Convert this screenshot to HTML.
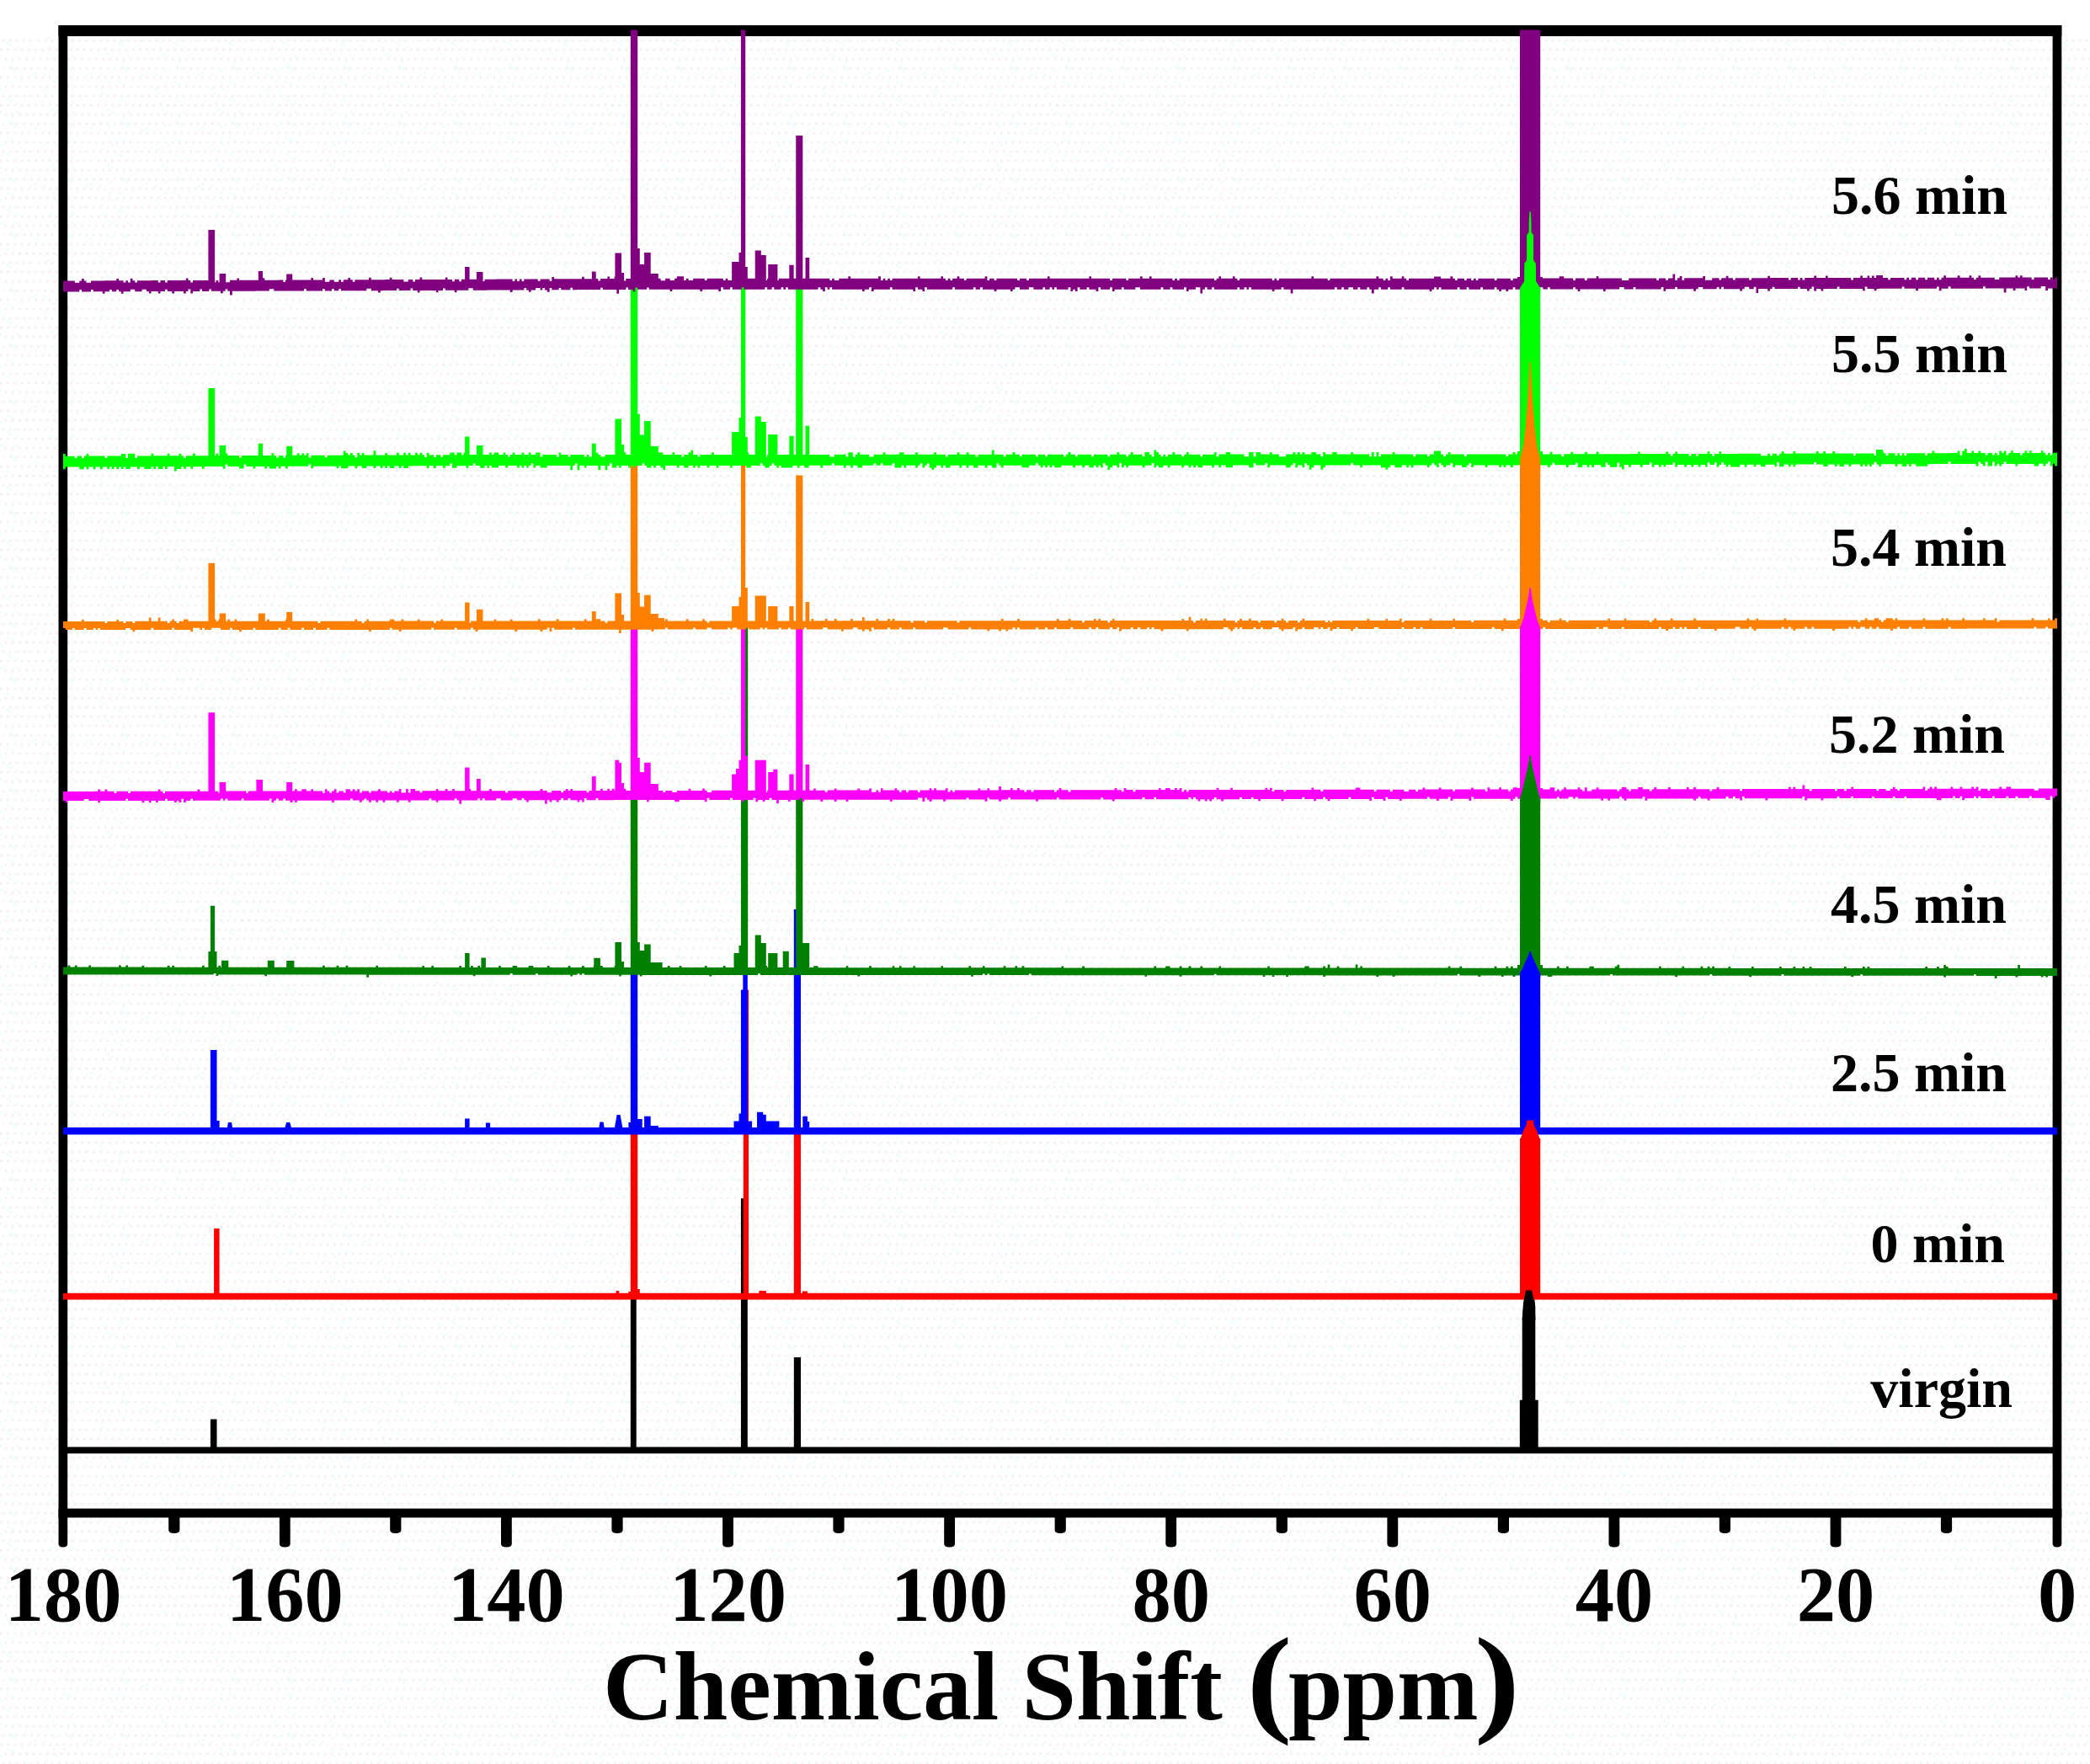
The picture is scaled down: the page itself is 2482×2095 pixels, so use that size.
<!DOCTYPE html>
<html lang="en">
<head>
<meta charset="utf-8">
<title>13C NMR spectra – Chemical Shift (ppm)</title>
<style>
html,body{margin:0;padding:0;background:#fff;}
body{width:2482px;height:2095px;overflow:hidden;}
svg{display:block;}
</style>
</head>
<body>
<svg width="2482" height="2095" viewBox="0 0 2482 2095">
<defs><pattern id="dz" width="8.25" height="33" patternUnits="userSpaceOnUse"><g fill="#f8efef"><rect x="5.5" y="2.75" width="2.75" height="2.75"/><rect x="2.75" y="13.75" width="2.75" height="2.75"/><rect x="0" y="24.75" width="2.75" height="2.75"/></g></pattern><pattern id="dc" width="66" height="66" patternUnits="userSpaceOnUse"><g fill="#eefefe"><rect x="52.2" y="22" width="2.75" height="2.75"/><rect x="63.2" y="30.2" width="2.75" height="2.75"/><rect x="60.5" y="63.2" width="2.75" height="2.75"/><rect x="55" y="44" width="2.75" height="2.75"/><rect x="0" y="38.5" width="2.75" height="2.75"/><rect x="19.2" y="55" width="2.75" height="2.75"/><rect x="2.8" y="13.8" width="2.75" height="2.75"/><rect x="8.2" y="30.2" width="2.75" height="2.75"/><rect x="41.2" y="19.2" width="2.75" height="2.75"/><rect x="33" y="46.8" width="2.75" height="2.75"/><rect x="8.2" y="49.5" width="2.75" height="2.75"/><rect x="19.2" y="0" width="2.75" height="2.75"/><rect x="63.2" y="16.5" width="2.75" height="2.75"/><rect x="35.8" y="22" width="2.75" height="2.75"/><rect x="13.8" y="33" width="2.75" height="2.75"/><rect x="13.8" y="5.5" width="2.75" height="2.75"/><rect x="11" y="52.2" width="2.75" height="2.75"/><rect x="52.2" y="38.5" width="2.75" height="2.75"/><rect x="11" y="11" width="2.75" height="2.75"/><rect x="0" y="0" width="2.75" height="2.75"/><rect x="16.5" y="16.5" width="2.75" height="2.75"/><rect x="13.8" y="13.8" width="2.75" height="2.75"/><rect x="24.8" y="27.5" width="2.75" height="2.75"/><rect x="16.5" y="46.8" width="2.75" height="2.75"/><rect x="57.8" y="55" width="2.75" height="2.75"/><rect x="16.5" y="13.8" width="2.75" height="2.75"/></g></pattern></defs>
<rect width="2482" height="2095" fill="#fff"/>
<rect y="44" width="2482" height="2051" fill="url(#dz)"/>
<rect y="44" width="2482" height="2051" fill="url(#dc)"/>
<g fill="#000">
<path d="M69.5 30V1833.5q0 4 5.35 4t5.35 -4V30Z"/>
<path d="M2437.6 30V1833.5q0 4 5.35 4t5.35 -4V30Z"/>
<rect x="69.5" y="30" width="2378.8" height="13"/>
<rect x="69.5" y="1791.6" width="2378.8" height="10.8"/>
<path d="M200.2 1800V1817q0 4 6.6 4t6.6 -4V1800Z"/>
<path d="M331.9 1800V1833.5q0 4 6.4 4t6.4 -4V1800Z"/>
<path d="M463.2 1800V1817q0 4 6.6 4t6.6 -4V1800Z"/>
<path d="M595 1800V1833.5q0 4 6.4 4t6.4 -4V1800Z"/>
<path d="M726.4 1800V1817q0 4 6.6 4t6.6 -4V1800Z"/>
<path d="M858.1 1800V1833.5q0 4 6.4 4t6.4 -4V1800Z"/>
<path d="M989.4 1800V1817q0 4 6.6 4t6.6 -4V1800Z"/>
<path d="M1121.2 1800V1833.5q0 4 6.4 4t6.4 -4V1800Z"/>
<path d="M1252.6 1800V1817q0 4 6.6 4t6.6 -4V1800Z"/>
<path d="M1384.3 1800V1833.5q0 4 6.4 4t6.4 -4V1800Z"/>
<path d="M1515.7 1800V1817q0 4 6.6 4t6.6 -4V1800Z"/>
<path d="M1647.4 1800V1833.5q0 4 6.4 4t6.4 -4V1800Z"/>
<path d="M1778.8 1800V1817q0 4 6.6 4t6.6 -4V1800Z"/>
<path d="M1910.5 1800V1833.5q0 4 6.4 4t6.4 -4V1800Z"/>
<path d="M2041.8 1800V1817q0 4 6.6 4t6.6 -4V1800Z"/>
<path d="M2173.6 1800V1833.5q0 4 6.4 4t6.4 -4V1800Z"/>
<path d="M2304.9 1800V1817q0 4 6.6 4t6.6 -4V1800Z"/>
</g>
<!-- black -->
<g fill="#000000">
<path d="M249.9 1685.6H257.5V1723.4H249.9ZM748.8 1538H755.7V1723.4H748.8ZM879.9 1423.3H887.8V1723.4H879.9ZM942.8 1612H951V1723.4H942.8ZM1807.7 1566H1823.3V1723.4H1807.7ZM1804.8 1662.7H1826.7V1723.4H1804.8ZM1807.7 1566L1809.5 1548L1812 1537L1813.5 1532.4L1820.4 1532.4L1822 1540L1823.3 1552L1823.3 1566Z"/>
<path d="M75 1718.5H2443V1726.3H75Z"/>
</g>
<!-- red -->
<g fill="#ff0000">
<path d="M254.1 1459H260.6V1540.7H254.1ZM748.8 1341H757.2V1540.7H748.8ZM882.8 1175.5H889V1540.7H882.8ZM942.8 1341H951V1540.7H942.8ZM731.6 1533H735.2V1540.7H731.6ZM746.4 1534H748.8V1540.7H746.4ZM757.2 1531H759.8V1540.7H757.2ZM901.4 1533H909.8V1540.7H901.4ZM952.9 1533.5H958.9V1540.7H952.9ZM1805 1352H1829.2V1540.6H1805Z"/>
<path d="M75 1535.7H2443V1543.6H75Z"/>
</g>
<!-- blue -->
<g fill="#0000ff">
<path d="M249.9 1247H257.5V1344.2H249.9ZM257.5 1331H260.6V1344.2H257.5ZM552.1 1328.4H557.6V1344.2H552.1ZM576.9 1333.6H582.1V1344.2H576.9ZM746.4 1333H748.8V1344.3H746.4ZM748.8 1150H757.2V1344.3H748.8ZM757.2 1329H762.7V1344.3H757.2ZM765.1 1325.7H772.7V1344.3H765.1ZM772.7 1337H781.8V1344.3H772.7ZM871.5 1331.4H877.5V1344.3H871.5ZM877.5 1322.6H879.9V1344.3H877.5ZM879.9 1175.5H882.3V1344.3H879.9ZM882.3 1150H887.8V1344.3H882.3ZM887.8 1331.4H893.1V1344.3H887.8ZM899 1320.7H906.2V1344.3H899ZM906.2 1323.8H909.8V1344.3H906.2ZM909.8 1331.4H925.4V1344.3H909.8ZM942.8 1080H951V1344.3H942.8ZM953.3 1325.7H958.9V1344.3H953.3ZM958.9 1332H961.2V1344.3H958.9ZM1805 1152H1829.2V1344.3H1805ZM269.1 1343.2L271 1333H275L276.8 1343.2ZM337.1 1343.2L340.2 1333H344.2L347.2 1343.2ZM710.5 1343.3L712.5 1332.5H716.5L718.4 1343.3ZM729.2 1343.3L732.6 1324H736.6L740 1343.3Z"/>
<path d="M75 1339.1H2443V1347.5H75Z"/>
</g>
<!-- dgreen -->
<g fill="#008000">
<path d="M249.9 1075.8H255.1V1154.1H249.9ZM247.4 1130H257.5V1154.1H247.4ZM263 1140.7H271.3V1154.1H263ZM317.8 1140.7H325.8V1154.2H317.8ZM340.2 1141H349.4V1154.2H340.2ZM552.1 1132H557.6V1154.3H552.1ZM571.4 1137.6H576.9V1154.3H571.4ZM705.3 1137.7H712.9V1154.4H705.3ZM730.4 1119H738V1154.4H730.4ZM738 1142H741.1V1154.4H738ZM748.8 942H757.2V1154.4H748.8ZM757.2 1119H759.8V1154.4H757.2ZM759.8 1129H765.1V1154.4H759.8ZM765.1 1121.4H772.7V1154.4H765.1ZM772.7 1143H786.6V1154.4H772.7ZM871.5 1132H877.5V1154.5H871.5ZM877.5 1123H879.9V1154.5H877.5ZM879.9 942H887.8V1154.5H879.9ZM885 742H888.2V1154.5H885ZM896.7 1110.6H903.8V1154.5H896.7ZM903.8 1120H909.8V1154.5H903.8ZM912.2 1132H923.4V1154.5H912.2ZM929.7 1129.8H936.8V1154.5H929.7ZM945.2 942H953.3V1154.6H945.2ZM953.3 1120H961.2V1154.6H953.3ZM1805 946H1829.2V1155.1H1805ZM1802 1146H1832V1155.1H1802Z"/>
<path d="M75 1148.6H80.5V1146.6H83.3V1148.6H88.8V1146.6H91.5V1148.6H105.3V1146.6H108V1148.6H141V1146.6H143.8V1148.6H149.3V1146.6H152V1148.6H168.5V1146.7H171.3V1148.7H198.8V1146.7H201.5V1148.7H204.3V1146.7H207V1148.7H240V1146.7H242.8V1148.7H259.3V1146.7H262V1148.7H341.8V1148.8H383V1146.8H385.8V1148.8H399.5V1146.8H402.3V1148.8H410.5V1146.8H413.3V1148.8H446.3V1146.8H449V1148.8H501.3V1146.9H504V1148.9H512.3V1146.9H515V1148.9H545.3V1146.9H548V1148.9H559.1V1146.9H561.8V1148.9H567.3V1146.9H570.1V1148.9H592.1V1146.9H594.8V1148.9H608.6V1146.9H614.1V1148.9H627.8V1147H633.3V1149H649.8V1147H652.6V1149H674.6V1147H677.3V1149H691.1V1147H693.8V1149H704.8V1147H707.6V1149H710.3V1147H715.8V1149H729.6V1147H732.3V1149H792.8V1147.1H795.6V1149.1H806.6V1147.1H809.3V1149.1H836.8V1147.1H839.6V1149.1H858.8V1147.1H861.6V1149.1H880.8V1147.1H883.6V1149.1H908.3V1147.1H911.1V1149.1H966.1V1147.2H971.6V1149.2H1004.6V1147.2H1007.3V1149.2H1032.1V1147.2H1034.9V1149.2H1059.6V1147.2H1062.4V1149.2H1067.9V1147.2H1070.6V1149.2H1084.4V1147.2H1087.1V1149.2H1117.4V1147.3H1120.1V1149.3H1150.4V1147.3H1153.1V1149.3H1166.9V1147.3H1169.6V1149.3H1191.6V1147.3H1194.4V1149.3H1205.4V1147.3H1208.1V1149.3H1213.6V1147.3H1216.4V1149.3H1260.4V1147.4H1263.1V1149.4H1285.1V1147.4H1287.9V1149.4H1367.6V1149.4H1370.4V1147.4H1373.1V1149.4H1384.1V1147.4H1389.6V1149.4H1400.6V1147.4H1403.4V1149.4H1411.6V1147.4H1414.4V1149.4H1425.4V1147.5H1428.1V1149.5H1447.4V1147.5H1450.1V1149.5H1505.2V1147.5H1507.9V1149.5H1549.2V1147.5H1554.7V1149.5H1571.2V1147.5H1573.9V1149.6H1576.7V1145.6H1579.4V1149.6H1587.7V1147.6H1590.4V1149.6H1609.7V1145.6H1612.4V1149.6H1615.2V1147.6H1617.9V1149.6H1697.7V1149.6H1719.7V1147.6H1722.4V1149.6H1733.4V1147.7H1736.2V1149.7H1774.7V1147.7H1777.4V1149.7H1788.4V1147.7H1791.2V1149.7H1793.9V1147.7H1796.7V1149.7H1807.7V1147.7H1810.4V1149.7H1848.9V1147.7H1851.7V1149.7H1859.9V1147.7H1862.7V1149.7H1887.4V1147.7H1892.9V1149.8H1917.7V1147.8H1920.4V1145.8H1923.2V1149.8H1970V1147.8H1972.7V1149.8H1997.5V1147.8H2000.2V1149.8H2019.5V1147.8H2022.2V1149.8H2027.7V1147.8H2030.5V1149.8H2033.2V1147.8H2036V1149.8H2052.5V1147.9H2055.2V1149.9H2080V1147.9H2082.7V1149.9H2113V1147.9H2115.7V1149.9H2129.5V1147.9H2132.2V1149.9H2140.5V1147.9H2143.2V1149.9H2148.7V1147.9H2151.5V1149.9H2190V1147.9H2192.7V1149.9H2212V1148H2214.7V1150H2217.5V1148H2220.2V1150H2286.2V1148H2289V1150H2300V1148H2302.7V1150H2308.2V1146H2311V1148H2313.7V1150H2393.5V1150.1H2396.2V1146.1H2399V1150.1H2443V1158.9H2432V1160.5H2429.2V1158.9H2426.5V1160.5H2423.7V1158.9H2396.2V1160.5H2393.5V1158.9H2371.5V1162.1H2368.7V1158.9H2346.7V1157.2H2344V1158.8H2311V1160.4H2308.2V1158.8H2228.5V1158.8H2212V1157.2H2209.2V1158.8H2201V1160.3H2198.2V1158.7H2118.5V1157.1H2115.7V1158.7H2080V1160.3H2077.2V1158.7H2033.2V1157H2030.5V1158.6H1992V1160.2H1989.2V1158.6H1914.9V1157H1912.2V1158.6H1843.4V1160.1H1837.9V1158.5H1799.4V1160.1H1796.7V1158.5H1785.7V1160.1H1782.9V1158.5H1758.2V1160.1H1755.4V1158.5H1733.4V1156.8H1730.7V1158.4H1656.4V1160H1653.7V1158.4H1637.2V1160H1634.4V1158.4H1573.9V1159.9H1571.2V1158.3H1529.9V1159.9H1527.2V1158.3H1513.4V1159.9H1510.7V1158.3H1502.4V1159.9H1499.7V1158.3H1444.6V1156.7H1441.9V1158.3H1403.4V1159.8H1400.6V1158.2H1362.1V1159.8H1359.4V1158.2H1279.6V1158.2H1224.6V1156.5H1221.9V1158.1H1175.1V1156.5H1172.4V1158.1H1169.6V1156.5H1166.9V1158.1H1155.9V1159.7H1153.1V1158.1H1073.4V1158H1021.1V1159.6H1018.3V1158H938.6V1157.9H902.8V1156.3H900.1V1157.9H845.1V1159.5H842.3V1157.9H762.6V1159.4H759.8V1157.8H737.8V1159.4H735.1V1157.8H693.8V1156.2H691.1V1157.8H688.3V1156.2H685.6V1157.8H680.1V1159.4H677.3V1157.8H638.8V1156.2H636.1V1157.8H608.6V1156.1H605.8V1157.7H564.6V1159.3H561.8V1157.7H482V1157.7H438V1160.8H435.3V1157.6H355.5V1157.6H317V1159.2H314.3V1157.6H259.3V1159.1H256.5V1155.9H253.8V1157.5H174V1157.5H94.3V1157.4H75Z"/>
</g>
<!-- magenta -->
<g fill="#ff00ff">
<path d="M247.4 846.3H255.1V946.3H247.4ZM260.6 929H268.2V946.2H260.6ZM304.4 926H312V946.2H304.4ZM340.2 929H347.2V946.1H340.2ZM552.1 911.5H557.6V945.8H552.1ZM565.9 925H570.8V945.8H565.9ZM702.9 922H707.7V945.6H702.9ZM730.4 902.7H735.2V945.6H730.4ZM735.2 906H738V945.6H735.2ZM738 930H741.1V945.6H738ZM748.8 740H757.2V945.6H748.8ZM757.2 900H759.8V945.5H757.2ZM759.8 917H765.1V945.5H759.8ZM765.1 905.8H772.7V945.5H765.1ZM772.7 931H781.8V945.5H772.7ZM869.1 919.5H873.9V945.4H869.1ZM873.9 913H877.5V945.4H873.9ZM877.5 902.7H879.9V945.4H877.5ZM879.9 740H885.2V945.4H879.9ZM885.2 897.5H887.8V945.4H885.2ZM896.7 902.7H909.8V945.3H896.7ZM912.2 917H918.2V945.3H912.2ZM918.2 913.7H923.4V945.3H918.2ZM937.3 919.5H942.6V945.3H937.3ZM945.2 740H953.3V945.3H945.2ZM956.5 908H961.2V945.3H956.5ZM1805 742H1829.2V944.1H1805ZM1802 936H1832V944.1H1802Z"/>
<path d="M75 939.9H113.5V939.8H116.3V937.6H119V939.8H124.5V937.6H127.3V939.8H135.5V942H138.3V939.8H152V942H154.8V939.8H187.8V937.5H190.5V939.7H193.3V941.9H196V939.7H234.5V937.5H237.3V939.7H259.3V941.8H262V937.4H264.8V939.6H292.3V941.8H295V939.6H333.5V939.5H341.8V937.3H344.5V939.5H350V937.3H352.8V939.5H358.3V937.3H363.8V939.5H369.3V937.3H372V939.5H383V941.7H385.8V937.3H388.5V939.5H391.3V941.7H394V939.5H396.8V937.2H399.5V941.6H402.3V939.4H407.8V941.6H410.5V937.2H416V939.4H418.8V937.2H421.5V939.4H424.3V937.2H427V941.6H429.8V939.4H438V941.6H440.8V939.4H449V937.2H451.8V939.4H460V941.6H462.8V939.4H465.5V941.6H468.3V939.4H473.8V937.1H476.5V941.5H482V937.1H484.8V941.5H487.5V937.1H493V939.3H498.5V941.5H501.3V939.3H517.8V937.1H520.5V939.3H528.8V937.1H531.5V939.3H537V937.1H539.8V939.3H553.6V937H559.1V939.2H581.1V937H583.8V939.2H600.3V941.4H603.1V939.2H641.6V936.9H644.3V939.1H649.8V941.3H655.3V939.1H666.3V941.3H669.1V939.1H671.8V936.9H674.6V939.1H677.3V936.9H680.1V939.1H696.6V941.2H699.3V939H713.1V936.8H715.8V939H721.3V936.8H724.1V939H726.8V936.8H729.6V939H735.1V941.2H740.6V936.8H743.3V939H751.6V936.8H754.3V939H768.1V936.7H770.8V938.9H779.1V936.7H781.8V938.9H787.3V941.1H790.1V938.9H798.3V941.1H803.8V938.9H817.6V936.7H820.3V938.9H834.1V936.6H836.8V938.8H839.6V941H845.1V938.8H883.6V938.8H908.3V940.9H911.1V938.7H949.6V938.7H966.1V936.5H968.8V938.7H979.8V940.8H982.6V938.6H990.8V936.4H993.6V938.6H1018.3V936.4H1021.1V938.6H1032.1V936.4H1034.9V940.8H1040.4V938.6H1043.1V940.7H1045.9V936.3H1048.6V938.5H1062.4V936.3H1065.1V938.5H1067.9V940.7H1070.6V938.5H1076.1V940.7H1078.9V938.5H1089.9V940.7H1092.6V938.5H1103.6V936.3H1106.4V938.5H1109.1V936.3H1111.9V938.5H1122.9V936.2H1125.6V940.6H1128.4V938.4H1131.1V940.6H1133.9V938.4H1161.4V936.2H1164.1V938.4H1172.4V936.2H1175.1V938.4H1186.1V933.9H1188.9V938.3H1199.9V936.1H1202.6V938.3H1208.1V936.1H1210.9V938.3H1216.4V940.5H1219.1V938.3H1224.6V940.5H1227.4V938.3H1252.1V940.5H1254.9V938.3H1257.6V936H1260.4V938.2H1268.6V940.4H1271.4V938.2H1309.9V938.2H1323.6V936H1326.4V938.2H1331.9V940.3H1334.6V935.9H1337.4V938.1H1345.6V940.3H1348.4V938.1H1375.9V935.9H1378.6V938.1H1384.1V935.9H1389.6V938.1H1395.1V935.9H1397.9V938.1H1400.6V935.9H1403.4V940.2H1406.1V938H1408.9V940.2H1411.6V938H1444.6V935.8H1447.4V938H1461.1V935.8H1463.9V938H1502.4V935.7H1505.2V937.9H1507.9V935.7H1510.7V940.1H1513.4V937.9H1524.4V940.1H1527.2V937.9H1557.4V935.6H1560.2V937.8H1568.4V940H1571.2V937.8H1609.7V935.6H1615.2V937.8H1631.7V939.9H1634.4V937.7H1650.9V939.9H1653.7V937.7H1667.4V939.9H1672.9V937.7H1681.2V939.9H1683.9V937.7H1689.4V935.4H1692.2V937.6H1708.7V935.4H1711.4V937.6H1725.2V939.8H1727.9V937.6H1747.2V935.4H1749.9V937.6H1763.7V939.7H1766.4V935.3H1769.2V937.5H1780.2V935.3H1782.9V937.5H1791.2V939.7H1793.9V937.5H1796.7V935.3H1802.2V939.7H1804.9V937.5H1818.7V939.7H1821.4V937.5H1824.2V939.7H1826.9V937.5H1840.7V935.2H1846.2V939.6H1848.9V937.4H1851.7V939.6H1854.4V937.4H1857.2V935.2H1859.9V937.4H1873.7V935.2H1876.4V937.4H1879.2V939.6H1881.9V935.2H1884.7V939.6H1890.2V937.4H1895.7V935.2H1898.4V937.4H1920.4V939.5H1923.2V937.3H1925.9V935.1H1931.4V937.3H1934.2V939.5H1936.9V937.3H1945.2V935.1H1950.7V937.3H1958.9V939.5H1961.7V937.3H1964.4V935.1H1967.2V937.3H1981V935H1983.7V937.2H2003V935H2005.7V937.2H2011.2V935H2014V937.2H2030.5V939.4H2033.2V937.2H2038.7V935H2041.5V937.2H2066.2V939.3H2069V937.1H2107.5V937.1H2124V934.8H2126.7V937H2129.5V934.8H2132.2V937H2140.5V932.6H2143.2V937H2148.7V939.2H2151.5V937H2179V939.2H2181.7V937H2190V939.2H2192.7V936.9H2198.2V934.7H2201V936.9H2228.5V939.1H2231.2V936.9H2239.5V939.1H2245V936.9H2247.7V934.7H2250.5V936.9H2253.2V939.1H2256V936.9H2283.5V934.6H2286.2V939H2289V936.8H2291.7V934.6H2294.5V936.8H2297.2V934.6H2300V936.8H2316.5V934.6H2319.2V936.8H2327.5V934.6H2330.2V936.8H2341.2V934.5H2344V936.7H2346.7V934.5H2349.5V938.9H2352.2V936.7H2360.5V938.9H2363.2V936.7H2374.2V934.5H2377V936.7H2382.5V934.5H2388V936.7H2415.5V938.8H2421V936.6H2443V945.6H2440.2V947.8H2437.5V945.6H2434.7V950H2429.2V947.8H2412.7V945.6H2410V947.8H2396.2V945.7H2393.5V947.9H2385.2V945.7H2382.5V947.9H2368.7V945.7H2366V947.9H2352.2V945.7H2349.5V947.9H2346.7V945.7H2344V947.9H2333V950.2H2330.2V945.8H2327.5V948H2322V945.8H2319.2V948H2305.5V950.2H2300V948H2264.2V945.9H2261.5V948.1H2250.5V945.9H2247.7V948.1H2225.7V945.9H2223V948.1H2201V945.9H2198.2V948.1H2184.5V946H2181.7V948.2H2165.2V950.4H2162.5V948.2H2146V950.4H2143.2V946H2140.5V948.2H2102V948.3H2099.2V950.5H2096.5V948.3H2071.7V946.1H2069V950.5H2066.2V948.3H2060.7V946.1H2058V948.3H2052.5V946.1H2049.7V948.4H2030.5V950.6H2027.7V948.4H2019.5V946.2H2016.7V948.4H2014V950.6H2011.2V948.4H1972.7V948.5H1956.2V950.7H1953.4V946.3H1950.7V948.5H1931.4V950.7H1928.7V948.5H1925.9V946.3H1923.2V948.5H1912.2V950.7H1909.4V948.5H1903.9V950.8H1901.2V948.6H1873.7V946.4H1870.9V948.6H1868.2V946.4H1862.7V948.6H1851.7V946.4H1848.9V948.6H1810.4V948.7H1802.2V946.5H1799.4V948.7H1796.7V950.9H1793.9V948.7H1755.4V948.8H1749.9V946.6H1747.2V951H1744.4V948.8H1725.2V951H1722.4V946.6H1719.7V948.8H1708.7V951H1705.9V948.8H1697.7V946.6H1694.9V948.8H1664.7V951.1H1661.9V948.9H1648.2V946.7H1645.4V951.1H1642.7V948.9H1631.7V946.7H1628.9V951.1H1626.2V948.9H1604.2V946.8H1601.4V949H1579.4V951.2H1576.7V949H1573.9V946.8H1571.2V949H1562.9V951.2H1560.2V949H1549.2V946.8H1546.4V949.1H1524.4V951.3H1521.7V949.1H1496.9V951.3H1494.1V949.1H1488.6V946.9H1485.9V949.1H1474.9V947H1472.1V949.2H1452.9V951.4H1450.1V949.2H1444.6V947H1441.9V949.2H1439.1V951.4H1436.4V949.2H1433.6V951.4H1430.9V949.2H1425.4V951.4H1422.6V949.2H1419.9V947H1417.1V949.2H1414.4V947H1411.6V949.2H1373.1V947.1H1370.4V949.3H1359.4V947.1H1356.6V949.3H1323.6V951.6H1320.9V949.4H1309.9V947.2H1307.1V949.4H1268.6V949.4H1257.6V947.3H1254.9V949.5H1232.9V951.7H1230.1V949.5H1199.9V947.3H1197.1V949.5H1188.9V951.7H1186.1V949.6H1175.1V947.4H1172.4V951.8H1169.6V949.6H1150.4V947.4H1147.6V949.6H1122.9V951.8H1120.1V949.6H1106.4V951.9H1103.6V949.7H1100.9V947.5H1098.1V951.9H1095.4V947.5H1089.9V949.7H1059.6V951.9H1056.9V949.7H1018.3V949.8H1007.3V952H1004.6V949.8H993.6V952H990.8V949.8H977.1V952H974.3V949.8H955.1V952.1H952.3V947.7H949.6V949.9H938.6V952.1H935.8V949.9H924.8V954.3H922.1V949.9H916.6V947.7H913.8V949.9H908.3V952.1H905.6V949.9H900.1V952.2H897.3V947.8H894.6V950H883.6V952.2H880.8V950H869.8V947.8H867.1V950H842.3V947.8H839.6V952.2H836.8V950H806.6V952.3H801.1V950.1H770.8V952.3H768.1V950.1H729.6V950.2H710.3V948H707.6V950.2H696.6V948H693.8V952.4H691.1V950.2H688.3V952.4H685.6V950.3H677.3V948.1H674.6V950.3H669.1V948.1H666.3V950.3H663.6V952.5H660.8V950.3H655.3V952.5H652.6V950.3H649.8V954.7H647.1V950.3H627.8V952.5H625.1V950.3H622.3V948.1H619.6V950.3H614.1V948.2H608.6V950.4H594.8V948.2H589.3V950.4H575.6V948.2H572.8V950.4H570.1V948.2H567.3V950.4H548V954.8H545.3V950.4H542.5V948.3H539.8V950.5H520.5V952.7H517.8V950.5H512.3V948.3H509.5V950.5H487.5V952.7H484.8V950.5H473.8V952.7H471V950.6H457.3V952.8H454.5V950.6H449V952.8H446.3V950.6H440.8V952.8H438V950.6H435.3V948.4H432.5V950.6H429.8V952.8H427V950.6H418.8V948.4H416V950.6H396.8V952.9H394V950.7H355.5V950.7H352.8V952.9H350V950.7H347.3V952.9H344.5V950.7H339V948.5H336.3V950.7H330.8V948.5H328V950.7H325.3V953H322.5V948.6H319.8V950.8H289.5V948.6H286.8V950.8H270.3V948.6H267.5V950.8H264.8V948.6H262V950.8H229V948.7H226.3V950.9H220.8V953.1H218V948.7H215.3V953.1H212.5V950.9H209.8V953.1H207V950.9H198.8V948.7H196V950.9H187.8V953.1H185V950.9H179.5V953.2H176.8V951H171.3V953.2H168.5V951H152V948.8H149.3V951H119V953.2H116.3V951H105.3V948.9H99.8V951.1H80.5V953.3H77.8V951.1H75Z"/>
</g>
<!-- orange -->
<g fill="#ff8000">
<path d="M247.4 668.7H255.1V743.9H247.4ZM260.6 728.4H268.2V743.9H260.6ZM306.8 728.4H314.8V743.9H306.8ZM340.2 727H347.2V743.8H340.2ZM552.1 715.6H557.6V743.7H552.1ZM565.9 723.8H573.5V743.7H565.9ZM702.9 726H707.7V743.6H702.9ZM730.4 704.6H738V743.6H730.4ZM738 730H741.1V743.6H738ZM748.8 544H757.2V743.6H748.8ZM757.2 704H759.8V743.6H757.2ZM759.8 720.6H765.1V743.6H759.8ZM765.1 706.7H772.7V743.6H765.1ZM772.7 729H781.8V743.6H772.7ZM781.8 734H789V743.5H781.8ZM869.1 720H877.5V743.5H869.1ZM877.5 709H879.9V743.5H877.5ZM879.9 544H885.2V743.5H879.9ZM885.2 698H887.8V743.5H885.2ZM896.7 707.5H909.8V743.5H896.7ZM912.2 720H923.4V743.5H912.2ZM937.3 720H942.6V743.5H937.3ZM945.2 564.6H953.3V743.4H945.2ZM956.5 715H961.2V743.4H956.5ZM1805 543H1829.2V742.9H1805ZM1802 735H1832V742.9H1802Z"/>
<path d="M75 737.9H97V735.7H99.8V737.9H124.5V740.1H127.3V737.9H138.3V735.7H141V737.9H146.5V740.1H149.3V737.9H157.5V740H160.3V737.8H176.8V733.4H179.5V737.8H187.8V733.4H190.5V737.8H198.8V740H201.5V737.8H204.3V735.6H207V737.8H209.8V740H212.5V737.8H218V735.6H223.5V737.8H248.3V735.6H251V737.8H253.8V735.6H256.5V737.8H259.3V735.6H262V737.8H270.3V735.6H273V737.8H278.5V735.6H281.3V737.8H317V735.5H319.8V737.7H339V735.5H341.8V737.7H377.5V739.9H380.3V737.7H421.5V735.5H424.3V737.7H429.8V739.9H432.5V737.7H435.3V735.5H438V737.7H462.8V735.5H468.3V737.6H476.5V735.4H479.3V737.6H495.8V735.4H498.5V737.6H515V739.8H517.8V737.6H523.3V735.4H526V737.6H556.3V739.8H559.1V737.6H586.6V735.4H589.3V737.6H605.8V735.4H608.6V737.6H638.8V735.3H641.6V737.5H660.8V735.3H663.6V737.5H693.8V735.3H696.6V737.5H707.6V735.3H713.1V737.5H718.6V739.7H721.3V737.5H768.1V739.7H770.8V737.5H773.6V739.7H776.3V737.5H790.1V735.2H792.8V737.4H814.8V735.2H817.6V737.4H834.1V735.2H836.8V737.4H839.6V739.6H842.3V737.4H922.1V737.4H963.3V735.1H966.1V737.3H979.8V735.1H982.6V737.3H990.8V735.1H993.6V737.3H1010.1V735.1H1012.8V737.3H1023.9V732.9H1026.6V737.3H1040.4V735.1H1043.1V737.3H1054.1V735.1H1056.9V737.3H1059.6V735.1H1062.4V737.3H1081.6V739.5H1084.4V737.3H1098.1V739.5H1100.9V737.2H1136.6V739.4H1139.4V737.2H1188.9V735H1191.6V737.2H1208.1V735H1210.9V737.2H1254.9V735H1257.6V737.1H1268.6V734.9H1271.4V737.1H1285.1V739.3H1287.9V737.1H1298.9V734.9H1301.6V737.1H1304.4V734.9H1307.1V737.1H1315.4V739.3H1318.1V737.1H1320.9V734.9H1323.6V737.1H1403.4V734.9H1406.1V737.1H1411.6V732.7H1414.4V737.1H1417.1V739.2H1419.9V737H1425.4V734.8H1428.1V737H1430.9V734.8H1433.6V737H1452.9V734.8H1455.6V737H1466.6V739.2H1469.4V737H1472.1V734.8H1474.9V737H1483.1V734.8H1485.9V737H1494.1V739.2H1496.9V737H1513.4V739.2H1516.2V737H1521.7V734.8H1524.4V737H1527.2V739.2H1529.9V737H1540.9V739.2H1543.7V737H1546.4V734.8H1549.2V737H1573.9V739.1H1576.7V736.9H1579.4V739.1H1582.2V736.9H1623.4V734.7H1626.2V736.9H1645.4V734.7H1648.2V736.9H1661.9V734.7H1664.7V739.1H1667.4V736.9H1697.7V734.7H1700.4V736.9H1725.2V734.7H1727.9V736.9H1747.2V739H1749.9V736.8H1785.7V734.6H1788.4V736.8H1804.9V734.6H1807.7V736.8H1815.9V734.6H1818.7V736.8H1837.9V739H1840.7V736.8H1851.7V734.6H1854.4V736.8H1859.9V739H1862.7V736.8H1909.4V734.5H1912.2V736.7H1928.7V734.5H1931.4V736.7H1958.9V738.9H1961.7V736.7H1964.4V734.5H1967.2V736.7H1983.7V734.5H1986.5V736.7H2011.2V734.5H2014V736.7H2074.5V734.4H2077.2V736.6H2085.5V734.4H2088.2V736.6H2118.5V734.4H2121.2V736.6H2201V736.6H2206.5V738.7H2209.2V736.5H2214.7V734.3H2217.5V736.5H2225.7V734.3H2231.2V736.5H2234V738.7H2236.7V736.5H2239.5V734.3H2247.7V736.5H2250.5V734.3H2253.2V736.5H2283.5V734.3H2286.2V736.5H2305.5V734.3H2308.2V736.5H2311V734.3H2313.7V736.5H2330.2V734.3H2333V736.5H2355V734.3H2357.7V736.5H2368.7V734.2H2371.5V738.6H2374.2V736.4H2412.7V734.2H2415.5V736.4H2432V734.2H2434.7V736.4H2440.2V734.2H2443V746.6H2432V744.4H2429.2V746.6H2418.2V744.4H2415.5V746.6H2335.7V746.7H2316.5V744.5H2313.7V746.7H2286.2V744.5H2283.5V746.7H2269.7V744.5H2267V746.7H2256V744.5H2253.2V746.7H2247.7V748.9H2245V746.7H2231.2V744.5H2228.5V746.7H2223V744.5H2220.2V746.7H2214.7V744.5H2209.2V746.7H2203.7V744.6H2201V746.8H2198.2V744.6H2195.5V746.8H2179V749H2176.2V746.8H2154.2V744.6H2151.5V746.8H2146V744.6H2143.2V746.8H2132.2V749H2129.5V746.8H2126.7V744.6H2124V746.8H2118.5V744.6H2115.7V746.8H2085.5V749H2082.7V746.8H2080V744.6H2077.2V746.8H2066.2V744.6H2060.7V746.8H2038.7V749.1H2036V746.9H2019.5V744.7H2016.7V746.9H2003V744.7H2000.2V746.9H1997.5V744.7H1994.7V746.9H1989.2V744.7H1986.5V746.9H1981V749.1H1978.2V746.9H1972.7V744.7H1970V746.9H1928.7V744.7H1925.9V746.9H1909.4V744.7H1903.9V746.9H1898.4V744.7H1895.7V746.9H1835.2V744.8H1832.4V747H1818.7V749.2H1815.9V747H1807.7V744.8H1804.9V747H1785.7V749.2H1782.9V747H1774.7V744.8H1771.9V747H1727.9V744.9H1725.2V747.1H1689.4V744.9H1686.7V747.1H1681.2V744.9H1678.4V747.1H1667.4V744.9H1664.7V747.1H1637.2V744.9H1631.7V747.1H1612.4V744.9H1609.7V747.1H1606.9V749.3H1604.2V747.1H1590.4V744.9H1587.7V747.1H1582.2V749.3H1579.4V744.9H1576.7V747.1H1571.2V745H1568.4V747.2H1565.7V745H1560.2V747.2H1549.2V745H1546.4V747.2H1540.9V749.4H1538.2V745H1535.4V747.2H1524.4V749.4H1521.7V747.2H1518.9V745H1510.7V747.2H1499.7V745H1496.9V747.2H1491.4V745H1488.6V747.2H1474.9V745H1472.1V747.2H1469.4V745H1466.6V747.2H1463.9V749.4H1461.1V747.2H1458.4V745H1452.9V747.2H1411.6V749.5H1408.9V747.3H1381.4V749.5H1378.6V747.3H1370.4V745.1H1367.6V747.3H1364.9V745.1H1362.1V747.3H1353.9V745.1H1351.1V747.3H1345.6V745.1H1342.9V747.3H1331.9V749.5H1329.1V745.1H1326.4V747.3H1320.9V745.1H1318.1V747.3H1304.4V745.1H1301.6V747.3H1296.1V745.1H1293.4V747.3H1274.1V745.1H1271.4V747.3H1254.9V745.2H1252.1V747.4H1243.9V745.2H1241.1V747.4H1232.9V745.2H1230.1V747.4H1210.9V745.2H1208.1V747.4H1205.4V745.2H1202.6V747.4H1197.1V749.6H1194.4V747.4H1188.9V749.6H1186.1V747.4H1175.1V749.6H1172.4V747.4H1153.1V745.2H1150.4V747.4H1125.6V745.2H1120.1V747.4H1087.1V745.3H1084.4V747.5H1070.6V745.3H1067.9V747.5H1056.9V745.3H1054.1V747.5H1037.6V745.3H1034.9V749.7H1032.1V747.5H1026.6V749.7H1023.9V747.5H1018.3V745.3H1012.8V747.5H1001.8V749.7H999.1V747.5H982.6V745.3H977.1V747.5H957.8V745.3H955.1V747.5H938.6V745.4H935.8V747.6H927.6V745.4H924.8V747.6H911.1V745.4H908.3V747.6H905.6V745.4H902.8V747.6H889.1V745.4H886.3V747.6H875.3V745.4H869.8V747.6H867.1V745.4H864.3V747.6H845.1V745.4H839.6V747.6H825.8V745.4H823.1V747.6H792.8V745.4H790.1V747.6H776.3V749.9H773.6V747.7H737.8V752.1H735.1V747.7H682.8V745.5H680.1V747.7H658.1V745.5H655.3V749.9H652.6V745.5H649.8V747.7H644.3V749.9H641.6V747.7H614.1V750H611.3V747.8H567.3V750H564.6V747.8H561.8V745.6H559.1V747.8H542.5V745.6H539.8V747.8H515V745.6H512.3V747.8H476.5V750H473.8V747.8H465.5V745.7H462.8V747.9H440.8V750.1H438V747.9H391.3V745.7H388.5V747.9H374.8V745.7H372V747.9H361V745.7H358.3V747.9H344.5V745.7H341.8V747.9H333.5V745.7H330.8V747.9H303.3V745.8H300.5V748H286.8V750.2H284V748H275.8V745.8H273V748H262V745.8H251V748H242.8V745.8H240V748H237.3V745.8H229V750.2H226.3V748H207V745.8H204.3V748H182.3V745.8H179.5V748H160.3V750.2H157.5V748H154.8V745.9H149.3V748.1H119V745.9H116.3V748.1H113.5V745.9H110.8V748.1H102.5V745.9H99.8V748.1H88.8V745.9H86V748.1H77.8V745.9H75Z"/>
</g>
<!-- green -->
<g fill="#00ff00">
<path d="M247.4 461H255.1V548.6H247.4ZM260.6 529H268.2V548.6H260.6ZM306.8 526.8H312V548.4H306.8ZM340.2 530H347.2V548.3H340.2ZM552.1 518.5H557.6V547.6H552.1ZM565.9 529H573.5V547.6H565.9ZM702.9 526.7H707.7V547.5H702.9ZM730.4 497.5H738V547.4H730.4ZM738 528H741.1V547.4H738ZM748.8 336H757.2V547.4H748.8ZM757.2 491.5H759.8V547.4H757.2ZM759.8 516.6H765.1V547.4H759.8ZM765.1 499.9H772.7V547.4H765.1ZM772.7 530H781.8V547.4H772.7ZM869.1 513H877.5V547.4H869.1ZM877.5 496H879.9V547.4H877.5ZM879.9 336H885.2V547.4H879.9ZM885.2 519H887.8V547.4H885.2ZM896.7 494.4H903.8V547.4H896.7ZM903.8 501H909.8V547.4H903.8ZM912.2 516H923.4V547.4H912.2ZM937.3 517.8H942.6V547.4H937.3ZM945.2 338H953.3V547.4H945.2ZM956.5 505.8H961.2V547.4H956.5ZM1805 338H1829.2V547H1805ZM1802 536H1832V547H1802ZM1703 535.5H1711V547H1703ZM2228 534H2236V545.9H2228Z"/>
<path d="M75 539.1H77.8V541.7H88.8V544.3H91.5V541.6H97V544.2H99.8V541.6H102.5V539H105.3V541.6H121.8V541.5H124.5V544.1H127.3V541.5H143.8V538.9H149.3V544.1H152V538.8H160.3V544H163V541.4H179.5V538.8H182.3V541.3H198.8V538.7H201.5V541.3H212.5V538.7H215.3V541.2H218V543.8H220.8V541.2H229V538.6H231.8V541.2H248.3V541.1H256.5V538.5H259.3V541.1H264.8V538.5H270.3V541.1H284V543.6H286.8V541H303.3V541H308.8V538.3H311.5V540.9H322.5V538.3H325.3V540.9H328V543.5H330.8V540.9H336.3V543.4H339V540.8H352.8V538.2H355.5V540.8H358.3V538.2H361V540.8H363.8V538.2H366.5V543.4H369.3V540.7H385.8V543.3H388.5V540.7H405V540.6H407.8V535.4H410.5V538H413.3V540.6H416V538H418.8V540.6H421.5V543.2H424.3V538H427V540.6H429.8V537.9H432.5V540.5H443.5V535.3H446.3V540.5H457.3V537.9H460V540.4H471V537.8H473.8V540.4H479.3V537.8H482V540.4H484.8V537.8H487.5V540.4H493V537.7H495.8V540.3H498.5V537.7H501.3V540.3H504V542.9H506.8V537.7H509.5V540.3H515V542.9H517.8V540.3H523.3V542.8H526V540.2H534.3V537.6H539.8V540.2H542.5V537.6H548V540.2H550.8V537.6H553.6V540.1H567.3V542.7H570.1V540.1H581.1V537.5H583.8V540H586.6V537.4H592.1V540H597.6V537.4H600.3V540H603.1V542.6H605.8V540H608.6V537.4H611.3V540H619.6V537.4H622.3V540H627.8V537.4H630.6V540H636.1V537.4H641.6V542.6H644.3V540H660.8V542.6H663.6V537.4H666.3V540H674.6V542.6H677.3V540H693.8V542.6H696.6V540H699.3V542.6H704.8V540H707.6V537.4H710.3V540H713.1V542.6H718.6V540H735.1V542.5H737.8V539.9H740.6V537.3H743.3V539.9H748.8V537.3H751.6V539.9H754.3V542.5H757.1V539.9H768.1V542.5H773.6V539.9H781.8V537.3H787.3V539.9H798.3V537.3H801.1V539.9H809.3V542.5H812.1V539.9H817.6V537.3H820.3V534.7H823.1V539.9H828.6V542.5H831.3V539.9H845.1V537.3H847.8V539.9H869.8V542.5H872.6V539.9H880.8V542.5H883.6V537.3H889.1V539.9H908.3V542.5H911.1V539.9H913.8V542.5H916.6V539.9H946.8V537.3H949.6V539.9H985.3V542.4H990.8V539.8H1004.6V542.4H1007.3V537.2H1012.8V542.4H1015.6V539.8H1018.3V537.2H1021.1V539.8H1032.1V542.4H1037.6V539.8H1048.6V537.2H1051.4V539.8H1067.9V537.2H1073.4V539.8H1087.1V537.2H1089.9V539.8H1109.1V537.2H1111.9V539.8H1122.9V542.4H1125.6V539.8H1136.6V537.2H1139.4V539.8H1147.6V537.2H1150.4V539.8H1158.6V542.4H1161.4V539.8H1177.9V534.6H1180.6V539.8H1191.6V542.4H1194.4V539.8H1202.6V537.1H1205.4V539.7H1210.9V542.3H1213.6V539.7H1230.1V542.3H1232.9V539.7H1241.1V542.3H1243.9V539.7H1263.1V542.3H1265.9V539.7H1268.6V537.1H1271.4V539.7H1276.9V542.3H1279.6V539.7H1296.1V542.3H1298.9V539.7H1315.4V542.3H1318.1V539.7H1326.4V537.1H1329.1V539.7H1337.4V542.3H1340.1V539.7H1342.9V537.1H1345.6V539.7H1356.6V542.3H1359.4V537.1H1364.9V539.7H1367.6V542.3H1370.4V534.5H1373.1V537.1H1375.9V539.7H1378.6V542.3H1381.4V539.7H1384.1V542.3H1386.9V539.7H1392.4V537.1H1395.1V539.7H1403.4V542.3H1406.1V539.7H1408.9V537.1H1411.6V539.7H1425.4V542.3H1428.1V539.7H1441.9V537H1444.6V542.2H1447.4V539.6H1455.6V537H1461.1V539.6H1477.6V542.2H1483.1V537H1488.6V542.2H1491.4V537H1496.9V539.6H1507.9V537H1510.7V539.6H1518.9V542.2H1527.2V539.6H1535.4V537H1538.2V539.6H1540.9V537H1543.7V539.6H1546.4V537H1549.2V539.6H1557.4V537H1562.9V539.6H1568.4V542.2H1571.2V537H1573.9V539.6H1582.2V537H1587.7V539.6H1604.2V537H1606.9V539.6H1626.2V542.2H1628.9V537H1631.7V542.2H1634.4V537H1637.2V542.2H1639.9V539.6H1653.7V537H1656.4V539.6H1678.4V542.2H1681.2V539.5H1694.9V542.1H1697.7V539.5H1714.2V542.1H1716.9V539.5H1719.7V536.9H1722.4V539.5H1738.9V542.1H1741.7V539.5H1788.4V542.1H1791.2V539.5H1796.7V536.9H1799.4V539.5H1815.9V536.9H1818.7V539.4H1824.2V542H1826.9V539.4H1840.7V536.8H1843.4V539.4H1854.4V542H1857.2V539.3H1865.4V536.7H1868.2V539.3H1881.9V536.7H1884.7V539.3H1895.7V536.6H1898.4V539.2H1917.7V539.2H1936.9V539.1H1945.2V536.5H1947.9V539.1H1967.2V539.1H1978.2V536.4H1981V539H1983.7V541.6H1986.5V539H1989.2V536.4H1992V539H2005.7V541.6H2008.5V538.9H2014V541.5H2016.7V538.9H2027.7V536.3H2030.5V538.9H2033.2V541.5H2036V538.9H2041.5V536.3H2044.2V538.9H2063.5V538.8H2082.7V538.7H2091V541.3H2099.2V538.7H2102V541.3H2104.7V538.7H2110.2V541.3H2113V538.7H2115.7V536.1H2118.5V538.7H2129.5V536H2132.2V538.6H2151.5V538.6H2157V536H2159.7V538.5H2165.2V535.9H2168V538.5H2176.2V535.9H2179V538.5H2198.2V538.4H2201V541H2203.7V538.4H2223V538.4H2225.7V541H2228.5V538.4H2234V535.7H2236.7V538.3H2239.5V540.9H2242.2V538.3H2250.5V540.9H2253.2V538.3H2256V540.9H2258.7V538.3H2261.5V540.9H2264.2V538.3H2283.5V538.2H2286.2V540.8H2289V538.2H2294.5V535.6H2297.2V538.2H2316.5V538.1H2324.7V535.5H2327.5V540.7H2330.2V535.5H2333V532.9H2335.7V538.1H2341.2V535.5H2344V538.1H2349.5V535.4H2352.2V538H2357.7V540.6H2360.5V538H2366V540.6H2368.7V538H2371.5V540.6H2374.2V535.4H2377V538H2379.7V535.4H2382.5V540.6H2385.2V537.9H2388V535.3H2390.7V537.9H2399V540.5H2401.7V537.9H2404.5V535.3H2407.2V537.9H2410V535.3H2412.7V537.9H2423.7V535.2H2426.5V537.8H2429.2V540.4H2432V537.8H2434.7V540.4H2437.5V537.8H2443V553.4H2440.2V550.8H2437.5V553.4H2434.7V548.2H2432V550.8H2429.2V553.4H2426.5V550.8H2421V553.5H2415.5V550.9H2396.2V553.5H2393.5V550.9H2382.5V548.4H2379.7V551H2377V553.6H2374.2V551H2371.5V553.6H2368.7V548.4H2366V553.6H2360.5V548.4H2357.7V553.6H2355V551H2352.2V548.4H2349.5V553.7H2346.7V551.1H2327.5V551.1H2316.5V548.5H2313.7V551.1H2294.5V551.2H2289V553.8H2275.2V551.2H2269.7V553.9H2267V551.3H2264.2V553.9H2258.7V551.3H2253.2V553.9H2250.5V551.3H2234V554H2231.2V551.4H2228.5V548.8H2225.7V551.4H2223V554H2220.2V551.4H2217.5V554H2214.7V551.4H2212V554H2209.2V551.4H2198.2V554.1H2195.5V551.5H2190V554.1H2184.5V551.5H2181.7V554.1H2179V551.5H2170.7V554.1H2165.2V551.5H2157V549H2154.2V551.6H2135V551.6H2132.2V554.2H2129.5V551.6H2126.7V554.2H2124V551.6H2118.5V554.3H2113V549.1H2110.2V554.3H2107.5V551.7H2096.5V554.3H2091V551.7H2085.5V554.3H2082.7V551.8H2074.5V554.4H2071.7V551.8H2066.2V554.4H2055.2V551.8H2052.5V554.4H2049.7V551.8H2047V549.3H2044.2V551.9H2041.5V554.5H2038.7V549.3H2036V551.9H2030.5V549.3H2027.7V554.5H2025V551.9H2019.5V554.5H2016.7V551.9H2011.2V554.5H2008.5V552H2003V554.6H2000.2V552H1992V554.6H1989.2V549.4H1986.5V552H1978.2V554.6H1975.5V552H1972.7V554.6H1970V552.1H1964.4V554.7H1961.7V549.5H1958.9V552.1H1950.7V554.7H1947.9V552.1H1936.9V554.7H1934.2V552.1H1928.7V557.4H1925.9V554.8H1923.2V549.6H1920.4V554.8H1912.2V552.2H1909.4V549.6H1906.7V554.8H1901.2V552.2H1892.9V554.9H1890.2V552.3H1887.4V554.9H1884.7V552.3H1879.2V554.9H1873.7V549.7H1870.9V552.3H1862.7V554.9H1859.9V552.3H1846.2V549.8H1843.4V552.4H1840.7V555H1837.9V552.4H1821.4V549.8H1818.7V552.5H1810.4V555.1H1807.7V552.5H1796.7V555.1H1793.9V552.5H1788.4V555.1H1785.7V552.5H1782.9V555.1H1780.2V552.5H1766.4V555.1H1763.7V552.5H1749.9V555.1H1747.2V549.9H1744.4V552.5H1741.7V555.1H1736.2V552.5H1727.9V555.1H1725.2V549.9H1722.4V552.5H1716.9V555.1H1714.2V552.5H1711.4V549.9H1708.7V555.1H1705.9V552.5H1703.2V549.9H1700.4V552.5H1697.7V555.1H1694.9V552.5H1678.4V555.2H1675.7V552.6H1672.9V555.2H1670.2V552.6H1664.7V555.2H1656.4V552.6H1650.9V555.2H1648.2V557.8H1645.4V555.2H1639.9V552.6H1617.9V555.2H1615.2V552.6H1606.9V550H1604.2V552.6H1573.9V555.2H1571.2V557.8H1568.4V552.6H1560.2V555.2H1557.4V557.8H1554.7V552.6H1551.9V550H1549.2V555.2H1546.4V552.6H1540.9V555.2H1538.2V550H1535.4V552.6H1532.7V555.2H1527.2V552.6H1507.9V555.2H1505.2V550H1502.4V552.6H1491.4V550H1488.6V555.2H1483.1V552.6H1463.9V555.2H1455.6V552.6H1450.1V555.2H1447.4V552.6H1441.9V555.2H1439.1V552.7H1428.1V555.3H1422.6V552.7H1419.9V555.3H1417.1V552.7H1414.4V555.3H1411.6V552.7H1406.1V555.3H1403.4V552.7H1389.6V555.3H1386.9V552.7H1381.4V555.3H1375.9V552.7H1373.1V555.3H1370.4V550.1H1367.6V552.7H1359.4V555.3H1356.6V552.7H1340.1V555.3H1337.4V552.7H1334.6V555.3H1331.9V550.1H1329.1V555.3H1326.4V552.7H1320.9V555.3H1318.1V557.9H1315.4V552.7H1312.6V550.1H1309.9V555.3H1307.1V552.7H1304.4V555.3H1301.6V552.7H1298.9V555.3H1293.4V552.7H1287.9V555.3H1285.1V552.7H1276.9V555.3H1274.1V552.7H1260.4V555.3H1252.1V552.7H1249.4V555.3H1246.6V552.7H1243.9V555.3H1241.1V552.7H1238.4V555.3H1235.6V552.7H1232.9V550.1H1230.1V552.7H1221.9V555.3H1213.6V552.7H1191.6V555.4H1188.9V552.8H1186.1V550.2H1183.4V555.4H1177.9V552.8H1172.4V555.4H1169.6V552.8H1161.4V555.4H1155.9V552.8H1150.4V555.4H1147.6V552.8H1142.1V555.4H1139.4V552.8H1128.4V555.4H1122.9V552.8H1120.1V555.4H1117.4V552.8H1111.9V555.4H1109.1V558H1106.4V555.4H1103.6V550.2H1100.9V552.8H1098.1V555.4H1095.4V550.2H1092.6V552.8H1089.9V555.4H1087.1V552.8H1076.1V555.4H1073.4V552.8H1070.6V555.4H1062.4V550.2H1059.6V552.8H1048.6V550.2H1045.9V552.8H1040.4V550.2H1037.6V552.8H1023.9V555.4H1018.3V552.8H1012.8V555.4H1010.1V552.8H1004.6V555.4H1001.8V552.8H990.8V550.2H988.1V552.8H977.1V555.4H974.3V552.8H960.6V555.5H955.1V552.9H949.6V555.5H946.8V552.9H941.3V555.5H927.6V552.9H924.8V555.5H922.1V552.9H919.3V550.3H916.6V552.9H913.8V555.5H908.3V552.9H905.6V550.3H902.8V552.9H891.8V555.5H886.3V552.9H869.8V555.5H867.1V552.9H853.3V555.5H850.6V552.9H842.3V555.5H839.6V552.9H831.3V555.5H828.6V552.9H825.8V555.5H823.1V552.9H817.6V555.5H812.1V552.9H806.6V555.5H803.8V552.9H790.1V558.1H787.3V555.5H784.6V552.9H779.1V555.5H776.3V552.9H773.6V555.5H768.1V552.9H765.3V550.3H762.6V552.9H754.3V555.5H751.6V552.9H748.8V555.5H746.1V552.9H737.8V555.5H735.1V552.9H732.3V555.5H726.8V550.3H724.1V552.9H721.3V558.2H718.6V553H713.1V558.2H710.3V553H696.6V555.6H693.8V553H688.3V558.2H685.6V550.4H682.8V553H680.1V558.2H677.3V553H649.8V555.6H641.6V553H636.1V555.6H633.3V550.4H630.6V553H627.8V555.6H625.1V553H622.3V555.6H619.6V553H616.8V555.6H614.1V553H603.1V555.6H600.3V553H592.1V555.6H583.8V553.1H581.1V555.7H578.3V553.1H575.6V555.7H570.1V553.1H564.6V550.5H561.8V553.1H556.3V555.7H553.6V553.2H542.5V555.8H537V550.6H534.3V553.2H528.8V555.8H526V553.2H517.8V555.9H515V553.3H509.5V555.9H506.8V553.3H490.3V553.4H484.8V556H479.3V553.4H476.5V556H473.8V553.4H468.3V556H462.8V553.4H460V556.1H457.3V553.5H454.5V556.1H451.8V553.5H446.3V556.1H443.5V553.5H435.3V556.1H429.8V553.6H424.3V556.2H421.5V553.6H413.3V556.2H405V553.6H402.3V556.2H399.5V553.7H383V553.7H372V556.3H369.3V551.2H366.5V553.8H350V553.8H341.8V556.4H339V553.8H333.5V556.5H330.8V553.9H328V556.5H319.8V553.9H317V556.5H314.3V553.9H303.3V556.6H300.5V554H292.3V551.4H289.5V556.6H284V554H270.3V551.5H267.5V556.7H264.8V554.1H248.3V554.1H242.8V556.8H240V554.2H229V556.8H226.3V554.2H220.8V556.8H218V554.2H215.3V556.9H209.8V559.5H207V554.3H198.8V556.9H196V554.3H193.3V556.9H187.8V554.3H185V556.9H182.3V554.4H179.5V557H171.3V554.4H165.8V557H163V554.4H154.8V557H149.3V554.5H146.5V557.1H143.8V554.5H141V557.1H138.3V554.5H135.5V557.1H132.8V554.5H130V557.1H127.3V554.5H121.8V557.2H119V554.6H113.5V557.2H110.8V554.6H105.3V557.2H102.5V554.6H99.8V557.2H94.3V554.6H77.8V557.3H75Z"/>
</g>
<!-- purple -->
<g fill="#800080">
<path d="M247.4 272.9H255.1V340.4H247.4ZM260.6 325H268.2V340.3H260.6ZM306.8 322H312V340.2H306.8ZM340.2 325.5H347.2V340.1H340.2ZM552.1 317H557.6V339.3H552.1ZM565.9 323H573.5V339.2H565.9ZM702.9 322.6H707.7V338.6H702.9ZM730.4 300.4H738V338.5H730.4ZM738 324H741.1V338.5H738ZM748.8 35.5H757.2V338.4H748.8ZM757.2 295H759.8V338.4H757.2ZM759.8 314H765.1V338.4H759.8ZM765.1 300H772.7V338.3H765.1ZM772.7 325H781.8V338.3H772.7ZM869.1 311H877.5V338.2H869.1ZM877.5 300H879.9V338.2H877.5ZM879.9 35.5H885.2V338.2H879.9ZM885.2 317H887.8V338.2H885.2ZM896.7 297.5H903.8V338.2H896.7ZM903.8 303H909.8V338.2H903.8ZM912.2 314H923.4V338.2H912.2ZM937.3 314.7H942.6V338.2H937.3ZM945.2 161H953.3V338.2H945.2ZM956.5 306H961.2V338.2H956.5ZM1805 35.5H1829.2V338.2H1805ZM1802 329H1832V338.2H1802ZM1703 328.5H1711V338.2H1703ZM2228 327H2236V337.4H2228Z"/>
<path d="M75 333.5H88.8V335.8H94.3V333.4H97V331H99.8V333.4H102.5V335.8H108V333.4H124.5V333.3H138.3V330.9H141V333.3H146.5V335.6H149.3V333.2H152V335.6H154.8V330.8H157.5V333.2H160.3V335.6H163V333.2H179.5V333.1H187.8V335.5H190.5V333.1H196V335.5H198.8V333.1H215.3V333H220.8V330.6H223.5V333H226.3V335.4H229V333H245.5V332.9H253.8V335.3H256.5V332.9H259.3V335.2H262V332.8H267.5V335.2H273V332.8H281.3V330.4H284V332.8H300.5V332.7H308.8V335.1H311.5V330.3H314.3V332.7H330.8V332.6H336.3V335H339V332.6H355.5V332.5H369.3V330.1H372V332.4H383V330H385.8V334.8H391.3V332.4H396.8V334.8H402.3V332.3H405V334.7H407.8V332.3H413.3V329.9H416V332.3H418.8V334.7H421.5V332.3H438V329.8H440.8V332.2H457.3V332.1H462.8V329.7H465.5V332.1H479.3V334.5H484.8V332H490.3V334.4H493V332H498.5V329.6H501.3V332H515V331.9H528.8V329.5H531.5V331.9H537V334.2H539.8V331.8H545.3V334.2H548V331.8H561.8V331.7H570.1V334.1H575.6V331.7H589.3V331.6H603.1V331.5H608.6V333.9H611.3V331.5H614.1V333.9H616.8V331.5H619.6V333.9H622.3V331.5H636.1V331.4H638.8V333.8H641.6V331.4H652.6V333.7H655.3V328.9H658.1V331.3H671.8V331.2H685.6V331.2H691.1V328.8H693.8V331.2H707.6V331.1H710.3V333.5H713.1V331.1H721.3V328.6H724.1V331H729.6V328.6H732.3V331H740.6V333.4H743.3V330.9H751.6V328.5H754.3V330.9H759.8V333.3H762.6V330.9H770.8V328.4H773.6V330.8H784.6V333.2H790.1V330.7H795.6V333.1H801.1V330.7H803.8V328.3H812.1V333.1H814.8V330.7H817.6V333.1H823.1V330.7H836.8V333.1H839.6V330.7H858.8V333.1H861.6V330.7H864.3V333.1H869.8V330.7H883.6V333.1H886.3V330.7H897.3V328.3H900.1V330.7H905.6V333.1H911.1V330.7H922.1V333.1H924.8V330.7H949.6V328.3H952.3V330.7H985.3V333.1H988.1V330.7H990.8V333.1H996.3V330.7H1007.3V328.3H1010.1V330.7H1043.1V328.3H1045.9V333.1H1048.6V330.7H1051.4V333.1H1054.1V330.7H1056.9V333.1H1059.6V330.7H1089.9V328.3H1092.6V330.7H1117.4V328.3H1120.1V330.7H1122.9V333.1H1125.6V330.7H1128.4V333.1H1131.1V330.7H1136.6V328.3H1139.4V330.7H1144.9V333.1H1147.6V330.7H1169.6V328.3H1172.4V333.1H1175.1V330.7H1180.6V333.1H1183.4V330.7H1208.1V333.1H1210.9V330.7H1219.1V333.1H1221.9V330.7H1243.9V328.3H1246.6V330.7H1293.4V328.3H1296.1V330.7H1318.1V333.1H1320.9V330.7H1337.4V333.1H1340.1V330.7H1353.9V328.3H1356.6V330.7H1364.9V328.3H1367.6V330.7H1392.4V333.1H1395.1V330.7H1397.9V333.1H1400.6V330.7H1441.9V333.1H1444.6V330.7H1447.4V328.3H1450.1V330.7H1463.9V328.3H1466.6V330.7H1469.4V333.1H1472.1V330.7H1510.7V333.1H1513.4V330.7H1516.2V333.1H1518.9V330.7H1557.4V328.3H1560.2V330.7H1576.7V333.1H1579.4V330.7H1634.4V328.3H1637.2V330.7H1642.7V333.1H1645.4V330.7H1648.2V333.1H1650.9V328.3H1653.7V330.7H1664.7V328.3H1667.4V330.7H1670.2V333.1H1672.9V330.7H1722.4V328.3H1725.2V330.7H1727.9V333.1H1730.7V330.7H1738.9V333.1H1741.7V330.7H1747.2V333.1H1749.9V330.7H1752.7V333.1H1755.4V330.7H1774.7V333.1H1777.4V330.7H1793.9V333.1H1796.7V330.7H1813.2V333.1H1815.9V330.7H1824.2V333.1H1826.9V330.6H1851.7V328.2H1857.2V330.6H1868.2V333H1870.9V330.6H1881.9V332.9H1884.7V330.5H1895.7V328.1H1898.4V330.5H1925.9V332.9H1934.2V330.4H1961.7V330.4H1967.2V332.8H1970V330.4H1978.2V332.8H1981V330.4H1986.5V325.5H1989.2V332.7H1992V330.3H1994.7V327.9H1997.5V332.7H2000.2V330.3H2022.2V327.9H2025V332.7H2033.2V330.3H2041.5V332.6H2044.2V330.2H2049.7V327.8H2052.5V330.2H2058V332.6H2060.7V330.2H2077.2V332.6H2080V330.2H2099.2V327.7H2102V330.1H2124V332.5H2126.7V330.1H2135V332.5H2137.7V330.1H2140.5V332.5H2143.2V330.1H2154.2V327.6H2157V330H2168V327.6H2170.7V330H2198.2V332.4H2201V329.9H2209.2V327.5H2212V329.9H2217.5V327.5H2220.2V329.9H2223V327.5H2225.7V329.9H2242.2V332.3H2245V329.9H2261.5V332.2H2264.2V329.8H2267V332.2H2269.7V329.8H2275.2V332.2H2278V329.8H2286.2V332.2H2289V329.8H2297.2V332.2H2300V329.8H2302.7V332.2H2305.5V329.8H2308.2V327.3H2311V329.7H2324.7V327.3H2327.5V329.7H2338.5V327.3H2341.2V329.7H2344V332.1H2346.7V329.7H2349.5V327.3H2352.2V329.7H2368.7V332H2374.2V329.6H2393.5V327.2H2396.2V329.6H2399V327.2H2401.7V329.6H2412.7V332H2415.5V329.5H2432V331.9H2434.7V329.5H2437.5V331.9H2440.2V329.5H2443V342.5H2432V344.9H2429.2V340.1H2423.7V342.5H2410V340.2H2407.2V345H2404.5V342.6H2393.5V345H2390.7V342.6H2382.5V347.4H2379.7V342.6H2357.7V340.3H2355V342.7H2327.5V342.7H2316.5V340.3H2313.7V342.7H2305.5V345.2H2302.7V340.4H2300V342.8H2278V345.2H2275.2V342.8H2261.5V340.4H2258.7V342.8H2231.2V342.9H2228.5V345.3H2225.7V342.9H2217.5V340.5H2214.7V345.3H2212V342.9H2184.5V340.6H2181.7V343H2165.2V345.4H2162.5V343H2157V345.4H2154.2V340.6H2151.5V343H2148.7V345.5H2146V343.1H2137.7V340.7H2135V343.1H2107.5V340.7H2104.7V343.1H2102V345.5H2099.2V343.1H2088.2V348H2085.5V340.8H2082.7V343.2H2077.2V340.8H2071.7V343.2H2069V345.6H2066.2V343.2H2047V340.8H2044.2V343.2H2041.5V340.9H2038.7V343.3H2022.2V340.9H2016.7V343.3H2014V345.7H2011.2V343.3H1992V340.9H1989.2V343.3H1978.2V345.8H1975.5V341H1972.7V343.4H1945.2V343.4H1942.4V341H1939.7V343.4H1928.7V341.1H1923.2V343.5H1906.7V345.9H1903.9V343.5H1876.4V346H1873.7V343.6H1870.9V341.2H1868.2V343.6H1840.7V341.2H1837.9V343.6H1832.4V341.2H1826.9V343.7H1799.4V341.3H1796.7V343.7H1791.2V346.1H1788.4V343.7H1782.9V346.1H1780.2V343.7H1777.4V341.3H1774.7V343.7H1760.9V341.3H1758.2V343.7H1744.4V341.3H1741.7V343.7H1733.4V341.3H1730.7V343.7H1711.4V341.3H1708.7V343.7H1705.9V341.3H1703.2V343.7H1700.4V346.1H1697.7V343.7H1667.4V341.3H1664.7V343.7H1650.9V341.3H1648.2V343.7H1639.9V341.3H1637.2V343.7H1631.7V348.5H1628.9V343.7H1626.2V341.3H1623.4V343.7H1615.2V341.3H1612.4V343.7H1606.9V341.3H1601.4V343.7H1595.9V341.3H1593.2V343.7H1587.7V341.3H1584.9V343.7H1535.4V348.5H1532.7V343.7H1524.4V341.3H1521.7V343.7H1513.4V346.1H1510.7V343.7H1485.9V341.3H1483.1V343.7H1480.4V341.3H1477.6V343.7H1472.1V341.3H1469.4V343.7H1441.9V341.3H1439.1V343.7H1433.6V341.3H1430.9V343.7H1428.1V348.5H1425.4V341.3H1419.9V343.7H1411.6V346.1H1408.9V341.3H1406.1V343.7H1392.4V341.3H1389.6V343.7H1381.4V341.3H1378.6V343.7H1353.9V341.3H1348.4V343.7H1334.6V341.3H1331.9V343.7H1323.6V346.1H1320.9V341.3H1318.1V343.7H1307.1V341.3H1304.4V346.1H1301.6V343.7H1293.4V341.3H1290.6V343.7H1282.4V341.3H1279.6V346.1H1276.9V343.7H1274.1V346.1H1271.4V341.3H1268.6V343.7H1254.9V341.3H1252.1V343.7H1249.4V341.3H1246.6V343.7H1241.1V341.3H1238.4V343.7H1227.4V341.3H1221.9V343.7H1210.9V341.3H1205.4V343.7H1202.6V346.1H1199.9V343.7H1183.4V346.1H1180.6V343.7H1166.9V341.3H1164.1V343.7H1158.6V341.3H1155.9V343.7H1133.9V341.3H1131.1V343.7H1100.9V341.3H1098.1V346.1H1095.4V343.7H1089.9V341.3H1087.1V346.1H1084.4V343.7H1059.6V341.3H1056.9V343.7H1037.6V346.1H1034.9V341.3H1032.1V343.7H1026.6V346.1H1023.9V343.7H988.1V341.3H985.3V343.7H982.6V341.3H979.8V346.1H977.1V343.7H974.3V341.3H971.6V343.7H935.8V341.3H933.1V343.7H930.3V341.3H927.6V343.7H919.3V341.3H916.6V343.7H911.1V341.3H908.3V343.7H883.6V341.3H880.8V343.7H869.8V341.3H867.1V343.7H858.8V341.3H856.1V346.1H853.3V343.7H834.1V346.1H831.3V343.7H798.3V346.1H795.6V343.7H781.8V343.8H770.8V341.4H768.1V343.8H757.1V341.5H754.3V346.3H751.6V343.9H746.1V341.5H743.3V344H735.1V348.8H732.3V344H718.6V344.1H715.8V341.7H713.1V344.1H699.3V344.1H685.6V344.2H680.1V341.8H677.3V344.2H666.3V341.9H663.6V344.3H655.3V341.9H652.6V346.7H649.8V344.4H647.1V342H644.3V344.4H641.6V342H636.1V344.4H630.6V346.8H627.8V344.5H625.1V342.1H622.3V344.5H608.6V346.9H605.8V344.5H592.1V344.6H578.3V344.7H564.6V344.7H561.8V342.3H556.3V344.8H542.5V347.2H539.8V344.8H528.8V342.5H526V344.9H520.5V347.3H517.8V344.9H504V345H498.5V347.4H495.8V345H490.3V342.6H487.5V345H473.8V342.7H471V345.1H454.5V345.2H451.8V347.6H449V345.2H440.8V342.8H435.3V345.2H418.8V345.3H405V342.9H402.3V345.3H396.8V343H394V345.4H385.8V343H383V345.4H366.5V345.5H363.8V343.1H361V345.5H344.5V345.6H328V345.6H325.3V343.2H319.8V345.6H303.3V345.7H286.8V345.8H275.8V350.6H273V345.8H270.3V343.4H267.5V345.8H264.8V348.2H262V345.8H251V343.5H248.3V345.9H240V343.5H237.3V345.9H229V348.4H226.3V343.6H223.5V346H220.8V348.4H218V346H207V348.4H204.3V346H198.8V343.7H196V346.1H190.5V348.5H187.8V346.1H179.5V348.5H176.8V346.1H174V343.8H168.5V346.2H160.3V343.8H154.8V346.2H146.5V348.7H143.8V346.3H141V343.9H138.3V346.3H132.8V343.9H130V346.3H124.5V348.7H121.8V346.3H110.8V344H108V346.4H97V344H94.3V346.4H77.8V346.5H75Z"/>
</g>
<path fill="#00ff00" d="M1816.5 251L1815.8 262L1815.6 276L1813.2 279L1813.1 309L1810.3 313L1810.1 334L1807.6 338L1805 342V349H1829.2L1829.2 342L1826.6 338L1824.1 334L1823.9 313L1821.1 309L1821 279L1818.6 276L1818.4 262L1817.7 251Z"/>
<path fill="#ff8000" d="M1816.5 430L1815.8 445L1814.6 468L1811.7 506L1809.1 530L1805 545V559H1829.2L1829.2 545L1825.1 530L1822.5 506L1819.6 468L1818.4 445L1817.7 430Z"/>
<path fill="#ff00ff" d="M1816.5 698L1815.8 703L1814.5 712L1812.1 722L1809.1 735L1805 746V753H1829.2L1829.2 746L1825.1 735L1822.1 722L1819.7 712L1818.4 703L1817.7 698Z"/>
<path fill="#008000" d="M1816.5 897L1815.8 903L1814.1 912L1810.8 926L1807.6 940L1805 948V955H1829.2L1829.2 948L1826.6 940L1823.4 926L1820.1 912L1818.4 903L1817.7 897Z"/>
<path fill="#0000ff" d="M1816.3 1130L1815.6 1133L1811.7 1142L1808.1 1150L1805 1156V1162H1829.2L1829.2 1156L1826.1 1150L1822.5 1142L1818.6 1133L1817.9 1130Z"/>
<path fill="#ff0000" d="M1813.3 1330.6L1812.6 1336L1809.3 1342.5L1805 1354V1356H1829.2L1829.2 1354L1824.9 1342.5L1821.6 1336L1820.9 1330.6Z"/>
<path fill="#000000" d="M1812.2 1532.4L1811 1538L1809 1547L1807.8 1566V1568H1823.4L1823.4 1566L1822.2 1547L1820.2 1538L1819 1532.4Z"/>
<g font-family="'Liberation Serif', 'Times New Roman', serif" font-weight="bold" fill="#000">
<g font-size="92.5" text-anchor="middle">
<text x="75.2" y="1925">180</text>
<text x="338.3" y="1925">160</text>
<text x="601.4" y="1925">140</text>
<text x="864.5" y="1925">120</text>
<text x="1127.6" y="1925">100</text>
<text x="1390.7" y="1925">80</text>
<text x="1653.8" y="1925">60</text>
<text x="1916.9" y="1925">40</text>
<text x="2180" y="1925">20</text>
<text x="2443.1" y="1925">0</text>
</g>
<text y="2042" font-size="116"><tspan x="716">Chemical</tspan> <tspan x="1213.4">Shift</tspan> <tspan x="1480.5" y="2043.4" font-size="142" textLength="53.9" lengthAdjust="spacingAndGlyphs">(</tspan><tspan x="1530" y="2042">ppm</tspan><tspan x="1751" y="2043.4" font-size="142" textLength="53.9" lengthAdjust="spacingAndGlyphs">)</tspan></text>
<g font-size="66" text-anchor="end">
<text x="2384" y="253.5">5.6 min</text>
<text x="2384" y="441.7">5.5 min</text>
<text x="2383" y="672">5.4 min</text>
<text x="2381" y="894.4">5.2 min</text>
<text x="2383" y="1095.8">4.5 min</text>
<text x="2383" y="1296.4">2.5 min</text>
<text x="2381" y="1499.4">0 min</text>
<text x="2390" y="1670.5">virgin</text>
</g>
</g>
</svg>
</body>
</html>
